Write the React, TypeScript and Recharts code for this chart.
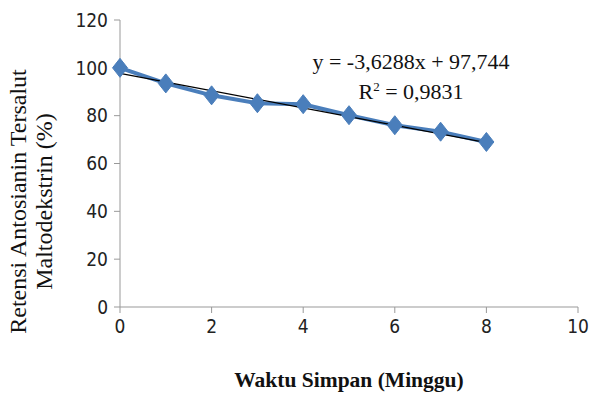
import React from 'react';
import { ComposedChart, Line, XAxis, YAxis } from 'recharts';

// Waktu simpan (minggu) dan retensi antosianin (%)
const weeks = [0, 1, 2, 3, 4, 5, 6, 7, 8];
const retention = [100, 93.5, 88.5, 85.2, 84.8, 80.2, 76.0, 73.3, 69.0];

// garis tren linear (ujung awal dan akhir)
const trendWeeks = [0, 8];
const trendValues = [97.7, 68.7];

const xTicks = [0, 2, 4, 6, 8, 10];
const yTicks = [0, 20, 40, 60, 80, 100, 120];

const data = weeks.map((w, i) => ({ week: w, retention: retention[i] }));
const trendData = trendWeeks.map((w, i) => ({ week: w, trend: trendValues[i] }));

const BLUE = '#4A7EBB';
const tickFont = {
  fontFamily: '"Liberation Sans Narrow", "DejaVu Sans Condensed", "Liberation Sans", sans-serif',
  fontSize: 19,
  fill: '#222',
};
const serif = '"Liberation Serif", "Times New Roman", serif';

const Diamond = (props: any) => {
  const { cx, cy } = props;
  if (cx == null || cy == null) return null;
  const rx = 7.5;
  const ry = 9.5;
  return (
    <polygon
      points={`${cx},${cy - ry} ${cx + rx},${cy} ${cx},${cy + ry} ${cx - rx},${cy}`}
      fill={BLUE}
      stroke={BLUE}
    />
  );
};

const YTitle = (props: any) => {
  const { viewBox } = props;
  const cy = viewBox.y + viewBox.height / 2 + 38;
  return (
    <g>
      <text
        x={18}
        y={cy}
        transform={`rotate(-90, 18, ${cy})`}
        textAnchor="middle"
        dominantBaseline="central"
        style={{ fontFamily: serif, fontSize: 24, fill: '#111' }}
      >
        Retensi Antosianin Tersalut
      </text>
      <text
        x={44}
        y={cy}
        transform={`rotate(-90, 44, ${cy})`}
        textAnchor="middle"
        dominantBaseline="central"
        style={{ fontFamily: serif, fontSize: 24, fill: '#111' }}
      >
        Maltodekstrin (%)
      </text>
    </g>
  );
};

export default function App() {
  return (
    <div style={{ position: 'absolute', top: 0, left: 0, width: 589, height: 398, background: '#fff' }}>
      <ComposedChart width={589} height={398} margin={{ top: 20, right: 11, left: 0, bottom: 51 }}>
        <XAxis
          type="number"
          dataKey="week"
          domain={[0, 10]}
          ticks={xTicks}
          tick={tickFont}
          stroke="#999"
          tickSize={6}
          tickMargin={7}
          height={40}
          label={{
            value: 'Waktu Simpan (Minggu)',
            position: 'bottom',
            offset: 25,
            style: { fontFamily: serif, fontSize: 21.5, fontWeight: 'bold', fill: '#111' },
          }}
        />
        <YAxis
          type="number"
          domain={[0, 120]}
          ticks={yTicks}
          tick={tickFont}
          stroke="#999"
          tickSize={6}
          tickMargin={6}
          width={120}
          label={<YTitle />}
        />
        <Line
          data={data}
          dataKey="retention"
          stroke={BLUE}
          strokeWidth={4}
          dot={<Diamond />}
          activeDot={false}
          isAnimationActive={false}
        />
        <Line
          data={trendData}
          dataKey="trend"
          stroke="#000"
          strokeWidth={1.2}
          dot={false}
          activeDot={false}
          isAnimationActive={false}
        />
      </ComposedChart>
      <div
        style={{
          position: 'absolute',
          left: 300,
          top: 47,
          width: 222,
          textAlign: 'center',
          fontFamily: serif,
          fontSize: 22,
          lineHeight: '30px',
          color: '#111',
        }}
      >
        <div>y = -3,6288x + 97,744</div>
        <div>
          R<sup style={{ fontSize: 13, verticalAlign: 'top', lineHeight: '20px' }}>2</sup> = 0,9831
        </div>
      </div>
    </div>
  );
}
